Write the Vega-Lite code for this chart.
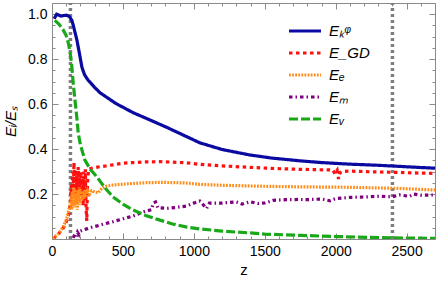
{
  "$schema": "https://vega.github.io/schema/vega-lite/v6.json",
  "width": 383,
  "height": 236,
  "autosize": {"type": "none"},
  "padding": {"left": 52, "top": 3, "right": 1, "bottom": 45},
  "background": "white",
  "config": {
    "view": {"stroke": null},
    "font": "Liberation Sans",
    "axis": {
      "grid": false,
      "domainColor": "#8a8a8a",
      "domainWidth": 1,
      "tickColor": "#8a8a8a",
      "tickWidth": 1,
      "labelColor": "black",
      "labelFont": "Liberation Sans",
      "labelFontSize": 14,
      "titleFont": "Liberation Sans",
      "titleFontSize": 15,
      "titleFontWeight": "normal",
      "titleColor": "black",
      "labelFlush": false,
      "labelOverlap": false
    }
  },
  "datasets": {
    "guides": [{"z": 130}, {"z": 2400}],
    "series": [
      {"s": "EK", "z": 15, "e": 0.98}, {"s": "EK", "z": 33, "e": 1.0}, {"s": "EK", "z": 63, "e": 0.992}, {"s": "EK", "z": 103, "e": 0.996}, {"s": "EK", "z": 122, "e": 0.99},
      {"s": "EK", "z": 140, "e": 0.973}, {"s": "EK", "z": 150, "e": 0.95}, {"s": "EK", "z": 160, "e": 0.925}, {"s": "EK", "z": 176, "e": 0.884}, {"s": "EK", "z": 195, "e": 0.82},
      {"s": "EK", "z": 211, "e": 0.764}, {"s": "EK", "z": 230, "e": 0.73}, {"s": "EK", "z": 254, "e": 0.707}, {"s": "EK", "z": 300, "e": 0.675}, {"s": "EK", "z": 338, "e": 0.651},
      {"s": "EK", "z": 450, "e": 0.603}, {"s": "EK", "z": 572, "e": 0.562}, {"s": "EK", "z": 700, "e": 0.527}, {"s": "EK", "z": 808, "e": 0.497}, {"s": "EK", "z": 920, "e": 0.464},
      {"s": "EK", "z": 1042, "e": 0.428}, {"s": "EK", "z": 1200, "e": 0.398}, {"s": "EK", "z": 1394, "e": 0.374}, {"s": "EK", "z": 1550, "e": 0.36}, {"s": "EK", "z": 1746, "e": 0.348},
      {"s": "EK", "z": 1900, "e": 0.34}, {"s": "EK", "z": 2099, "e": 0.333}, {"s": "EK", "z": 2300, "e": 0.328}, {"s": "EK", "z": 2451, "e": 0.323}, {"s": "EK", "z": 2600, "e": 0.318}, {"s": "EK", "z": 2700, "e": 0.315},

      {"s": "EGD", "z": 10, "e": 0.0}, {"s": "EGD", "z": 25, "e": 0.01}, {"s": "EGD", "z": 40, "e": 0.015}, {"s": "EGD", "z": 55, "e": 0.03}, {"s": "EGD", "z": 70, "e": 0.04},
      {"s": "EGD", "z": 85, "e": 0.055}, {"s": "EGD", "z": 100, "e": 0.075}, {"s": "EGD", "z": 110, "e": 0.09}, {"s": "EGD", "z": 118, "e": 0.11}, {"s": "EGD", "z": 125, "e": 0.14},
      {"s": "EGD", "z": 130, "e": 0.17}, {"s": "EGD", "z": 135, "e": 0.24}, {"s": "EGD", "z": 140, "e": 0.18}, {"s": "EGD", "z": 145, "e": 0.3}, {"s": "EGD", "z": 150, "e": 0.2},
      {"s": "EGD", "z": 155, "e": 0.34}, {"s": "EGD", "z": 160, "e": 0.22}, {"s": "EGD", "z": 165, "e": 0.31}, {"s": "EGD", "z": 170, "e": 0.16}, {"s": "EGD", "z": 175, "e": 0.29},
      {"s": "EGD", "z": 180, "e": 0.2}, {"s": "EGD", "z": 185, "e": 0.32}, {"s": "EGD", "z": 190, "e": 0.17}, {"s": "EGD", "z": 195, "e": 0.28}, {"s": "EGD", "z": 200, "e": 0.21},
      {"s": "EGD", "z": 205, "e": 0.3}, {"s": "EGD", "z": 210, "e": 0.18}, {"s": "EGD", "z": 215, "e": 0.27}, {"s": "EGD", "z": 220, "e": 0.15}, {"s": "EGD", "z": 225, "e": 0.3},
      {"s": "EGD", "z": 230, "e": 0.2}, {"s": "EGD", "z": 235, "e": 0.31}, {"s": "EGD", "z": 240, "e": 0.14}, {"s": "EGD", "z": 245, "e": 0.08}, {"s": "EGD", "z": 250, "e": 0.25},
      {"s": "EGD", "z": 258, "e": 0.31}, {"s": "EGD", "z": 280, "e": 0.315}, {"s": "EGD", "z": 320, "e": 0.32}, {"s": "EGD", "z": 380, "e": 0.325}, {"s": "EGD", "z": 430, "e": 0.33},
      {"s": "EGD", "z": 500, "e": 0.337}, {"s": "EGD", "z": 571, "e": 0.34}, {"s": "EGD", "z": 650, "e": 0.343}, {"s": "EGD", "z": 761, "e": 0.344}, {"s": "EGD", "z": 850, "e": 0.342},
      {"s": "EGD", "z": 950, "e": 0.339}, {"s": "EGD", "z": 1042, "e": 0.332}, {"s": "EGD", "z": 1200, "e": 0.325}, {"s": "EGD", "z": 1394, "e": 0.319}, {"s": "EGD", "z": 1550, "e": 0.314},
      {"s": "EGD", "z": 1746, "e": 0.31}, {"s": "EGD", "z": 1980, "e": 0.307}, {"s": "EGD", "z": 1995, "e": 0.29}, {"s": "EGD", "z": 2010, "e": 0.305}, {"s": "EGD", "z": 2020, "e": 0.267},
      {"s": "EGD", "z": 2030, "e": 0.295}, {"s": "EGD", "z": 2045, "e": 0.3}, {"s": "EGD", "z": 2099, "e": 0.302}, {"s": "EGD", "z": 2250, "e": 0.299}, {"s": "EGD", "z": 2451, "e": 0.296},
      {"s": "EGD", "z": 2600, "e": 0.293}, {"s": "EGD", "z": 2700, "e": 0.292},

      {"s": "EE", "z": 10, "e": 0.0}, {"s": "EE", "z": 20, "e": 0.01}, {"s": "EE", "z": 30, "e": 0.015}, {"s": "EE", "z": 40, "e": 0.02}, {"s": "EE", "z": 50, "e": 0.03},
      {"s": "EE", "z": 60, "e": 0.035}, {"s": "EE", "z": 70, "e": 0.045}, {"s": "EE", "z": 80, "e": 0.055}, {"s": "EE", "z": 90, "e": 0.07}, {"s": "EE", "z": 100, "e": 0.085},
      {"s": "EE", "z": 108, "e": 0.1}, {"s": "EE", "z": 115, "e": 0.12}, {"s": "EE", "z": 122, "e": 0.14}, {"s": "EE", "z": 128, "e": 0.16}, {"s": "EE", "z": 133, "e": 0.19},
      {"s": "EE", "z": 138, "e": 0.13}, {"s": "EE", "z": 143, "e": 0.21}, {"s": "EE", "z": 148, "e": 0.15}, {"s": "EE", "z": 153, "e": 0.23}, {"s": "EE", "z": 158, "e": 0.14},
      {"s": "EE", "z": 163, "e": 0.2}, {"s": "EE", "z": 168, "e": 0.16}, {"s": "EE", "z": 173, "e": 0.22}, {"s": "EE", "z": 178, "e": 0.13}, {"s": "EE", "z": 183, "e": 0.21},
      {"s": "EE", "z": 188, "e": 0.17}, {"s": "EE", "z": 193, "e": 0.23}, {"s": "EE", "z": 198, "e": 0.15}, {"s": "EE", "z": 203, "e": 0.22}, {"s": "EE", "z": 210, "e": 0.17},
      {"s": "EE", "z": 217, "e": 0.21}, {"s": "EE", "z": 225, "e": 0.18}, {"s": "EE", "z": 233, "e": 0.22}, {"s": "EE", "z": 242, "e": 0.19}, {"s": "EE", "z": 252, "e": 0.215},
      {"s": "EE", "z": 265, "e": 0.2}, {"s": "EE", "z": 280, "e": 0.215}, {"s": "EE", "z": 300, "e": 0.21}, {"s": "EE", "z": 325, "e": 0.205}, {"s": "EE", "z": 350, "e": 0.225},
      {"s": "EE", "z": 380, "e": 0.235}, {"s": "EE", "z": 430, "e": 0.24}, {"s": "EE", "z": 500, "e": 0.244}, {"s": "EE", "z": 571, "e": 0.247}, {"s": "EE", "z": 650, "e": 0.25},
      {"s": "EE", "z": 761, "e": 0.252}, {"s": "EE", "z": 850, "e": 0.251}, {"s": "EE", "z": 950, "e": 0.249}, {"s": "EE", "z": 1042, "e": 0.243}, {"s": "EE", "z": 1200, "e": 0.239},
      {"s": "EE", "z": 1394, "e": 0.236}, {"s": "EE", "z": 1550, "e": 0.234}, {"s": "EE", "z": 1746, "e": 0.232}, {"s": "EE", "z": 2099, "e": 0.23}, {"s": "EE", "z": 2451, "e": 0.225},
      {"s": "EE", "z": 2700, "e": 0.218},

      {"s": "EM", "z": 150, "e": 0.005}, {"s": "EM", "z": 160, "e": 0.02}, {"s": "EM", "z": 170, "e": 0.01}, {"s": "EM", "z": 180, "e": 0.03}, {"s": "EM", "z": 190, "e": 0.02},
      {"s": "EM", "z": 200, "e": 0.035}, {"s": "EM", "z": 220, "e": 0.04}, {"s": "EM", "z": 244, "e": 0.045}, {"s": "EM", "z": 280, "e": 0.052}, {"s": "EM", "z": 338, "e": 0.062},
      {"s": "EM", "z": 430, "e": 0.077}, {"s": "EM", "z": 500, "e": 0.09}, {"s": "EM", "z": 571, "e": 0.102}, {"s": "EM", "z": 643, "e": 0.121}, {"s": "EM", "z": 700, "e": 0.13},
      {"s": "EM", "z": 715, "e": 0.16}, {"s": "EM", "z": 730, "e": 0.165}, {"s": "EM", "z": 745, "e": 0.14}, {"s": "EM", "z": 808, "e": 0.136}, {"s": "EM", "z": 870, "e": 0.14},
      {"s": "EM", "z": 950, "e": 0.147}, {"s": "EM", "z": 1000, "e": 0.16}, {"s": "EM", "z": 1042, "e": 0.169}, {"s": "EM", "z": 1070, "e": 0.15}, {"s": "EM", "z": 1090, "e": 0.136},
      {"s": "EM", "z": 1110, "e": 0.16}, {"s": "EM", "z": 1200, "e": 0.16}, {"s": "EM", "z": 1300, "e": 0.165}, {"s": "EM", "z": 1340, "e": 0.155}, {"s": "EM", "z": 1394, "e": 0.166},
      {"s": "EM", "z": 1450, "e": 0.158}, {"s": "EM", "z": 1500, "e": 0.16}, {"s": "EM", "z": 1560, "e": 0.172}, {"s": "EM", "z": 1650, "e": 0.175}, {"s": "EM", "z": 1746, "e": 0.176},
      {"s": "EM", "z": 1800, "e": 0.175}, {"s": "EM", "z": 1900, "e": 0.178}, {"s": "EM", "z": 1960, "e": 0.17}, {"s": "EM", "z": 2000, "e": 0.18}, {"s": "EM", "z": 2099, "e": 0.185},
      {"s": "EM", "z": 2200, "e": 0.187}, {"s": "EM", "z": 2300, "e": 0.19}, {"s": "EM", "z": 2400, "e": 0.188}, {"s": "EM", "z": 2451, "e": 0.196}, {"s": "EM", "z": 2520, "e": 0.19},
      {"s": "EM", "z": 2550, "e": 0.2}, {"s": "EM", "z": 2600, "e": 0.195}, {"s": "EM", "z": 2700, "e": 0.196},

      {"s": "EV", "z": 20, "e": 0.973}, {"s": "EV", "z": 50, "e": 0.955}, {"s": "EV", "z": 80, "e": 0.929}, {"s": "EV", "z": 100, "e": 0.905}, {"s": "EV", "z": 116, "e": 0.87},
      {"s": "EV", "z": 130, "e": 0.82}, {"s": "EV", "z": 140, "e": 0.764}, {"s": "EV", "z": 150, "e": 0.69}, {"s": "EV", "z": 162, "e": 0.618}, {"s": "EV", "z": 175, "e": 0.54},
      {"s": "EV", "z": 185, "e": 0.471}, {"s": "EV", "z": 200, "e": 0.42}, {"s": "EV", "z": 232, "e": 0.351}, {"s": "EV", "z": 270, "e": 0.31}, {"s": "EV", "z": 317, "e": 0.276},
      {"s": "EV", "z": 370, "e": 0.23}, {"s": "EV", "z": 430, "e": 0.187}, {"s": "EV", "z": 500, "e": 0.155}, {"s": "EV", "z": 571, "e": 0.129}, {"s": "EV", "z": 660, "e": 0.105},
      {"s": "EV", "z": 761, "e": 0.084}, {"s": "EV", "z": 850, "e": 0.067}, {"s": "EV", "z": 950, "e": 0.053}, {"s": "EV", "z": 1042, "e": 0.045}, {"s": "EV", "z": 1200, "e": 0.035},
      {"s": "EV", "z": 1394, "e": 0.027}, {"s": "EV", "z": 1500, "e": 0.022}, {"s": "EV", "z": 1750, "e": 0.016}, {"s": "EV", "z": 2000, "e": 0.011}, {"s": "EV", "z": 2250, "e": 0.007},
      {"s": "EV", "z": 2500, "e": 0.004}, {"s": "EV", "z": 2700, "e": 0.003}
    ]
  },
  "layer": [
    {
      "data": {"name": "guides"},
      "mark": {"type": "rule", "color": "#7f7f7f", "strokeWidth": 3.5, "strokeDash": [3, 3]},
      "encoding": {
        "x": {
          "field": "z", "type": "quantitative",
          "scale": {"domain": [0, 2700], "nice": false, "zero": false},
          "axis": {
            "orient": "top", "title": null, "labels": false,
            "values": [0,100,200,300,400,500,600,700,800,900,1000,1100,1200,1300,1400,1500,1600,1700,1800,1900,2000,2100,2200,2300,2400,2500,2600,2700],
            "tickSize": {"condition": {"test": "datum.value % 500 === 0", "value": -6}, "value": -3}
          }
        },
        "y": {
          "datum": 0, "type": "quantitative",
          "scale": {"domain": [0, 1.05], "nice": false},
          "axis": {
            "orient": "right", "title": null, "labels": false,
            "values": [0,0.05,0.1,0.15,0.2,0.25,0.3,0.35,0.4,0.45,0.5,0.55,0.6,0.65,0.7,0.75,0.8,0.85,0.9,0.95,1.0],
            "tickSize": {"condition": {"test": "abs(datum.value*5 - round(datum.value*5)) < 1e-6", "value": -6}, "value": -3}
          }
        },
        "y2": {"datum": 1.05}
      }
    },
    {
      "data": {"name": "series"},
      "mark": {"type": "line", "strokeWidth": 3.2, "clip": true},
      "encoding": {
        "x": {
          "field": "z", "type": "quantitative",
          "scale": {"domain": [0, 2700], "nice": false, "zero": false},
          "axis": {
            "orient": "bottom", "title": "z", "titlePadding": 1,
            "values": [0,100,200,300,400,500,600,700,800,900,1000,1100,1200,1300,1400,1500,1600,1700,1800,1900,2000,2100,2200,2300,2400,2500,2600,2700],
            "labelExpr": "datum.value % 500 === 0 ? format(datum.value, 'd') : ''",
            "tickSize": {"condition": {"test": "datum.value % 500 === 0", "value": -6}, "value": -3},
            "labelPadding": 11
          }
        },
        "y": {
          "field": "e", "type": "quantitative",
          "scale": {"domain": [0, 1.05], "nice": false},
          "axis": {
            "orient": "left", "title": "Eᵢ/Eₛ", "titleFontStyle": "italic", "titlePadding": 9,
            "values": [0,0.05,0.1,0.15,0.2,0.25,0.3,0.35,0.4,0.45,0.5,0.55,0.6,0.65,0.7,0.75,0.8,0.85,0.9,0.95,1.0],
            "labelExpr": "(abs(datum.value*5 - round(datum.value*5)) < 1e-6 && datum.value > 0.01) ? format(datum.value, '.1f') : ''",
            "tickSize": {"condition": {"test": "abs(datum.value*5 - round(datum.value*5)) < 1e-6", "value": -6}, "value": -3},
            "labelPadding": 11
          }
        },
        "color": {
          "field": "s", "type": "nominal",
          "scale": {"domain": ["EK", "EGD", "EE", "EM", "EV"], "range": ["#0a0aa0", "#ff1010", "#ff8c1a", "#800080", "#1aa81a"]},
          "legend": {
            "orient": "none", "legendX": 235, "legendY": 17, "title": null,
            "symbolType": "stroke", "symbolSize": 1024, "symbolStrokeWidth": 3.2,
            "labelFont": "Liberation Sans", "labelFontStyle": "italic", "labelFontSize": 15, "labelColor": "black",
            "labelOffset": 6, "clipHeight": 22, "rowPadding": 0, "padding": 0,
            "labelExpr": "{'EK': 'Eₖᵠ', 'EGD': 'E_GD', 'EE': 'Eₑ', 'EM': 'Eₘ', 'EV': 'Eᵥ'}[datum.label]"
          }
        },
        "strokeDash": {
          "field": "s", "type": "nominal",
          "scale": {"domain": ["EK", "EGD", "EE", "EM", "EV"], "range": [[1, 0], [3.5, 3.5], [1.8, 1.3], [3.5, 3, 1.5, 3], [9, 3]]},
          "legend": {
            "orient": "none", "legendX": 235, "legendY": 17, "title": null,
            "symbolType": "stroke", "symbolSize": 1024, "symbolStrokeWidth": 3.2,
            "labelFont": "Liberation Sans", "labelFontStyle": "italic", "labelFontSize": 15, "labelColor": "black",
            "labelOffset": 6, "clipHeight": 22, "rowPadding": 0, "padding": 0,
            "labelExpr": "{'EK': 'Eₖᵠ', 'EGD': 'E_GD', 'EE': 'Eₑ', 'EM': 'Eₘ', 'EV': 'Eᵥ'}[datum.label]"
          }
        }
      }
    }
  ],
  "resolve": {"axis": {"x": "independent", "y": "independent"}}
}
